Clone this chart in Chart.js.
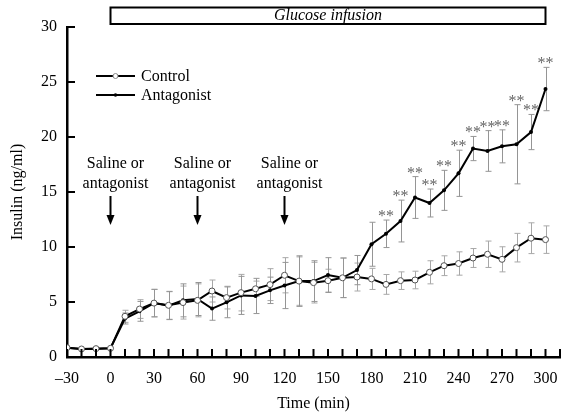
<!DOCTYPE html>
<html>
<head>
<meta charset="utf-8">
<title>Insulin during glucose infusion</title>
<script src="https://cdn.jsdelivr.net/npm/chart.js@4.4.1/dist/chart.umd.min.js"></script>
<style>
  html, body { margin: 0; padding: 0; background: #fff; }
  #chart { display: block; }
</style>
</head>
<body>
<canvas id="chart" width="567" height="415"></canvas>
<script>
// ---- data (insulin, ng/ml, mean ± SE) ----
const times = [-30, -20, -10, 0, 10, 20, 30, 40, 50, 60, 70, 80, 90, 100, 110, 120, 130, 140, 150,
               160, 170, 180, 190, 200, 210, 220, 230, 240, 250, 260, 270, 280, 290, 300];

const control = [0.85, 0.73, 0.76, 0.79, 3.7, 4.36, 4.9, 4.7, 4.95, 5.15, 6.0, 5.4, 5.85, 6.2, 6.58, 7.43,
                 6.9, 6.76, 6.94, 7.2, 7.27, 7.1, 6.6, 6.94, 7.0, 7.7, 8.3, 8.5, 9.0, 9.34, 8.88, 9.94, 10.8, 10.67];
const controlErr = [0, 0, 0, 0, 0.55, 0.85, 1.25, 1.27, 1.5, 1.5, 1.0, 1.03, 1.66, 0.7, 1.45, 1.6,
                    2.2, 1.85, 1.04, 1.8, 1.27, 0.96, 0.9, 0.8, 0.8, 1.05, 0.9, 1.06, 0.86, 1.2, 1.14, 1.3, 1.4, 1.25];

const antagonist = [0.85, 0.73, 0.76, 0.79, 3.5, 4.15, 4.9, 4.67, 5.15, 5.27, 4.4, 4.97, 5.6, 5.55, 6.06, 6.5,
                    6.9, 6.9, 7.45, 7.2, 7.9, 10.25, 11.2, 12.36, 14.5, 14.0, 15.15, 16.7, 18.95, 18.73, 19.15, 19.34, 20.45, 24.36];
const antagonistErr = [0, 0, 0, 0, 0.5, 0.9, 1.25, 1.27, 1.5, 1.5, 1.06, 1.4, 1.73, 1.6, 1.2, 2.1,
                       2.3, 1.85, 1.58, 1.8, 1.33, 2.0, 1.25, 1.9, 1.9, 1.27, 1.82, 2.1, 1.1, 1.85, 1.5, 3.6, 1.6, 1.97];

// ** = significant vs control
const signifTimes = [190, 200, 210, 220, 230, 240, 250, 260, 270, 280, 290, 300];

const salineTimes = [0, 60, 120];
const infusionStart = 0;
const infusionEnd = 300;

const xTickLabels = [-30, 0, 30, 60, 90, 120, 150, 180, 210, 240, 270, 300];

const SERIF = "'Liberation Serif', 'Times New Roman', serif";
Chart.defaults.font.family = SERIF;
Chart.defaults.font.size = 16;
Chart.defaults.color = '#000';

function toPoints(vals) {
    return times.map((t, i) => ({ x: t, y: vals[i] }));
}

// ===================== ERROR BARS + ASTERISKS =====================
const errorBars = {
    id: 'errorBars',
    beforeDatasetsDraw(chart) {
        const { ctx, scales: { x, y } } = chart;
        const sets = [
            { vals: control, err: controlErr, color: '#a8a8a8' },
            { vals: antagonist, err: antagonistErr, color: '#959595' }
        ];
        ctx.save();
        ctx.lineWidth = 1;
        sets.forEach(s => {
            ctx.strokeStyle = s.color;
            times.forEach((t, i) => {
                const e = s.err[i];
                if (!e) return;
                const px = Math.round(x.getPixelForValue(t)) + 0.5;
                const top = y.getPixelForValue(s.vals[i] + e);
                const bot = y.getPixelForValue(s.vals[i] - e);
                ctx.beginPath();
                ctx.moveTo(px, top); ctx.lineTo(px, bot);
                ctx.moveTo(px - 3, top); ctx.lineTo(px + 3, top);
                ctx.moveTo(px - 3, bot); ctx.lineTo(px + 3, bot);
                ctx.stroke();
            });
        });
        ctx.restore();
    },
    afterDatasetsDraw(chart) {
        const { ctx, scales: { x, y } } = chart;
        ctx.save();
        ctx.fillStyle = '#666';
        ctx.font = '16px ' + SERIF;
        ctx.textAlign = 'center';
        ctx.textBaseline = 'alphabetic';
        signifTimes.forEach(t => {
            const i = times.indexOf(t);
            const top = y.getPixelForValue(antagonist[i] + antagonistErr[i]);
            ctx.fillText('**', x.getPixelForValue(t), top + 1);
        });
        ctx.restore();
    }
};

// ===================== INWARD TICKS, BOX, ARROWS, LEGEND =====================
const decorations = {
    id: 'decorations',
    afterDraw(chart) {
        const { ctx, chartArea, scales: { x, y } } = chart;
        ctx.save();
        ctx.strokeStyle = '#000';
        ctx.fillStyle = '#000';

        // inward tick marks
        ctx.lineWidth = 2;
        ctx.beginPath();
        x.ticks.forEach(tk => {
            const px = x.getPixelForValue(tk.value);
            ctx.moveTo(px, chartArea.bottom);
            ctx.lineTo(px, chartArea.bottom - 8);
        });
        y.ticks.forEach(tk => {
            const py = y.getPixelForValue(tk.value);
            ctx.moveTo(chartArea.left, py);
            ctx.lineTo(chartArea.left + 8, py);
        });
        ctx.stroke();

        // glucose infusion box
        const bx0 = x.getPixelForValue(infusionStart);
        const bx1 = x.getPixelForValue(infusionEnd);
        ctx.lineWidth = 2;
        ctx.strokeRect(bx0, 7.5, bx1 - bx0, 16.5);
        ctx.font = 'italic 16px ' + SERIF;
        ctx.textAlign = 'center';
        ctx.textBaseline = 'middle';
        ctx.fillText('Glucose infusion', (bx0 + bx1) / 2, 16);

        // saline / antagonist arrows
        ctx.font = '16px ' + SERIF;
        salineTimes.forEach(t => {
            const px = x.getPixelForValue(t);
            ctx.fillText('Saline or', px + 5, 164);
            ctx.fillText('antagonist', px + 5, 184);
            ctx.lineWidth = 2;
            ctx.beginPath();
            ctx.moveTo(px, 196);
            ctx.lineTo(px, 217);
            ctx.stroke();
            ctx.beginPath();
            ctx.moveTo(px - 4, 215);
            ctx.lineTo(px + 4, 215);
            ctx.lineTo(px, 225);
            ctx.closePath();
            ctx.fill();
        });

        // legend
        ctx.textAlign = 'left';
        const items = [
            { label: 'Control', y: 76, open: true },
            { label: 'Antagonist', y: 95, open: false }
        ];
        items.forEach(it => {
            ctx.lineWidth = 2;
            ctx.beginPath();
            ctx.moveTo(96, it.y);
            ctx.lineTo(135, it.y);
            ctx.stroke();
            ctx.beginPath();
            if (it.open) {
                ctx.arc(115.5, it.y, 2.5, 0, Math.PI * 2);
                ctx.fillStyle = '#fff';
                ctx.fill();
                ctx.lineWidth = 1;
                ctx.strokeStyle = '#888';
                ctx.stroke();
                ctx.strokeStyle = '#000';
            } else {
                ctx.arc(115.5, it.y, 1.8, 0, Math.PI * 2);
                ctx.fillStyle = '#000';
                ctx.fill();
            }
            ctx.fillStyle = '#000';
            ctx.fillText(it.label, 141, it.y + 1);
        });
        ctx.restore();
    }
};

new Chart(document.getElementById('chart'), {
    type: 'line',
    data: {
        datasets: [
            {
                label: 'Control',
                data: toPoints(control),
                borderColor: '#000',
                borderWidth: 2,
                pointRadius: 3,
                pointBackgroundColor: '#fff',
                pointBorderColor: '#555',
                pointBorderWidth: 1,
                tension: 0
            },
            {
                label: 'Antagonist',
                data: toPoints(antagonist),
                borderColor: '#000',
                borderWidth: 2,
                pointRadius: 2,
                pointBackgroundColor: '#000',
                pointBorderColor: '#000',
                pointBorderWidth: 0,
                tension: 0
            }
        ]
    },
    options: {
        responsive: false,
        animation: false,
        devicePixelRatio: 1,
        layout: { padding: { top: 27, right: 7, left: 0, bottom: 0 } },
        plugins: {
            legend: { display: false },
            tooltip: { enabled: false }
        },
        scales: {
            x: {
                type: 'linear',
                min: -30,
                max: 310,
                afterFit(scale) { scale.height = 58; },
                grid: { display: false },
                border: { display: true, color: '#000', width: 2.5 },
                ticks: {
                    stepSize: 10,
                    autoSkip: false,
                    maxRotation: 0,
                    padding: 4,
                    font: { size: 16 },
                    callback(v) {
                        if (!xTickLabels.includes(v)) return '';
                        return v < 0 ? '\u2013' + Math.abs(v) : String(v);
                    }
                },
                title: {
                    display: true,
                    text: 'Time (min)',
                    font: { size: 16 },
                    padding: { top: 0, bottom: 2 }
                }
            },
            y: {
                min: 0,
                max: 30,
                afterFit(scale) { scale.width = 67; },
                grid: { display: false },
                border: { display: true, color: '#000', width: 2.5 },
                ticks: {
                    stepSize: 5,
                    padding: 2,
                    font: { size: 16 }
                },
                title: {
                    display: true,
                    text: 'Insulin (ng/ml)',
                    font: { size: 16 },
                    padding: { top: 8, bottom: 0 }
                }
            }
        }
    },
    plugins: [errorBars, decorations]
});
</script>
</body>
</html>
